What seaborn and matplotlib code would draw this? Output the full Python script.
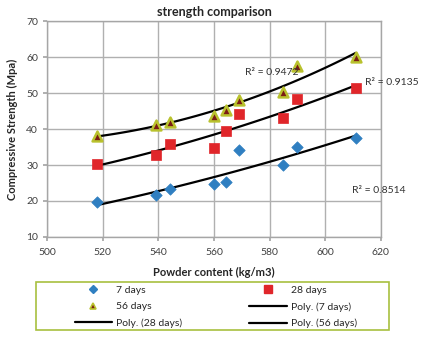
import numpy as np
import pandas as pd
import matplotlib
matplotlib.use("Agg")
import matplotlib.pyplot as plt
import seaborn as sns
from matplotlib.lines import Line2D
from matplotlib.patches import Rectangle

# Powder content (kg/m3) of the mixes
powder = [518, 539, 544, 560, 564.5, 569, 585, 590, 611]

# Compressive strength (MPa) at each curing age
days7 = [19.7, 21.6, 23.2, 24.6, 25.3, 34.1, 30.1, 34.9, 37.5]
days28 = [30.4, 32.8, 35.8, 34.7, 39.4, 44.1, 43.2, 48.4, 51.3]
days56 = [38.2, 41.0, 41.9, 43.6, 45.2, 48.2, 50.3, 57.4, 60.0]

r2_labels = ["R\u00b2 = 0.8514", "R\u00b2 = 0.9135", "R\u00b2 = 0.9472"]
ages = ["7 days", "28 days", "56 days"]

sns.set_theme(style="whitegrid")
plt.rcParams["font.family"] = ["Lato", "DejaVu Sans"]

df = pd.DataFrame({
    "powder": powder * 3,
    "strength": days7 + days28 + days56,
    "age": [a for a in ages for _ in powder],
})

fig = plt.figure(figsize=(4.25, 3.4), dpi=100)
ax = fig.add_axes([0.111, 0.303, 0.785, 0.635])

blue = "#2F7FC1"
red = "#E0262A"
olive = "#B9C22E"
darkred = "#7A1C14"

styles = {
    "7 days": dict(marker="D", s=34, color=blue, edgecolor=blue, linewidth=0.5),
    "28 days": dict(marker="s", s=62, color=red, edgecolor=red, linewidth=0.5),
    "56 days": dict(marker="^", s=50, color=darkred, edgecolor=olive, linewidth=1.8),
}

# quadratic trend line for each age
xs = np.linspace(min(powder), max(powder), 100)
for age, vals in zip(ages, [days7, days28, days56]):
    coef = np.polyfit(powder, vals, 2)
    sns.lineplot(x=xs, y=np.polyval(coef, xs), ax=ax, color="black", lw=1.6, zorder=2)

for age in ages:
    sub = df[df["age"] == age]
    sns.scatterplot(data=sub, x="powder", y="strength", ax=ax, zorder=3, **styles[age])

ax.set_xlim(500, 620)
ax.set_ylim(10, 70)
ax.set_xticks(range(500, 621, 20))
ax.set_yticks(range(10, 71, 10))
ax.grid(True, color="#B0B0B0", lw=1.0)
for sp in ax.spines.values():
    sp.set_color("#A6A6A6")
    sp.set_linewidth(1.0)
ax.tick_params(axis="both", labelsize=7.5, colors="#404040", length=3,
               bottom=True, left=True, color="#A6A6A6")
ax.tick_params(axis="x", pad=5)
ax.set_xlabel("Powder content (kg/m3)", fontsize=8, fontweight="bold", labelpad=7)
ax.set_ylabel("Compressive Strength (Mpa)", fontsize=8, fontweight="bold", labelpad=6)
ax.set_title("strength comparison", fontsize=9, fontweight="bold", pad=4)

for (x, y), lab in zip([(609.5, 23.0), (614.3, 53.0), (571.0, 55.8)], r2_labels):
    ax.text(x, y, lab, fontsize=7.5, color="#333333", va="center", clip_on=False)

h7 = Line2D([], [], marker="D", ls="none", color=blue, markersize=4)
h28 = Line2D([], [], marker="s", ls="none", color=red, markersize=6)
h56 = Line2D([], [], marker="^", ls="none", markerfacecolor=darkred,
             markeredgecolor=olive, markeredgewidth=1.2, markersize=5)
p7 = Line2D([], [], color="black", lw=1.6)
p28 = Line2D([], [], color="black", lw=1.6)
p56 = Line2D([], [], color="black", lw=1.6)
handles = [h7, h56, p28, h28, p7, p56]
labels = ["7 days", "56 days", "Poly. (28 days)", "28 days", "Poly. (7 days)", "Poly. (56 days)"]
leg = fig.legend(handles, labels, ncol=2, loc="upper left",
                 bbox_to_anchor=(72 / 425, 1 - 283 / 340),
                 fontsize=7.5, frameon=False,
                 borderpad=0.25, labelspacing=0.68, handlelength=3.6,
                 columnspacing=6.4, handletextpad=0.4, borderaxespad=0)

# legend box outline
fig.patches.append(Rectangle((36 / 425, 1 - 330 / 340), (389 - 36) / 425, 48 / 340,
                             transform=fig.transFigure, fill=False,
                             edgecolor="#A8C040", lw=1.2))

fig.savefig("out.png", dpi=100)
